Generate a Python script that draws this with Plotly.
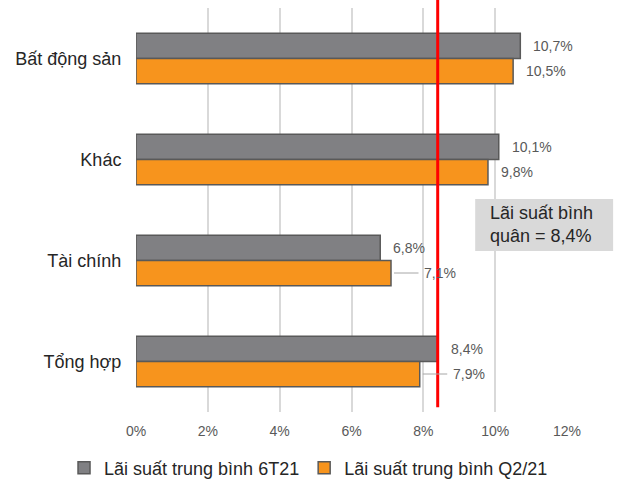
import plotly.graph_objects as go

categories = ['Bất động sản', 'Khác', 'Tài chính', 'Tổng hợp']
rate_6t21 = [10.7, 10.1, 6.8, 8.4]
rate_q221 = [10.5, 9.8, 7.1, 7.9]
labels_6t21 = ['10,7%', '10,1%', '6,8%', '8,4%']
labels_q221 = ['10,5%', '9,8%', '7,1%', '7,9%']
avg_rate = 8.4
x_ticks = [0, 2, 4, 6, 8, 10, 12]
x_ticklabels = ['0%', '2%', '4%', '6%', '8%', '10%', '12%']

FONT = 'Arial, Liberation Sans, sans-serif'
GRAY = '#808083'
ORANGE = '#F7941D'
EDGE = '#595959'
LABEL = '#595959'

fig = go.Figure()
fig.add_trace(go.Bar(y=categories, x=rate_6t21, orientation='h', name='Lãi suất trung bình 6T21',
                     marker=dict(color=GRAY, line=dict(color=EDGE, width=1.5))))
fig.add_trace(go.Bar(y=categories, x=rate_q221, orientation='h', name='Lãi suất trung bình Q2/21',
                     marker=dict(color=ORANGE, line=dict(color=EDGE, width=1.5))))

annotations = []
# labels that sit past a leader line in the source chart
leader = {'Tài chính', 'Tổng hợp'}
for cat, v1, v2, t1, t2 in zip(categories, rate_6t21, rate_q221, labels_6t21, labels_q221):
    annotations.append(dict(x=v1, y=cat, text=t1, showarrow=False, xanchor='left', xshift=11, yshift=12.5,
                            font=dict(family=FONT, size=14, color=LABEL)))
    if cat in leader:
        annotations.append(dict(x=v2, y=cat, text=t2, showarrow=True, arrowhead=0, arrowwidth=1,
                                arrowcolor='#a6a6a6', ax=49, ay=0, standoff=3, borderpad=5, yshift=-12.5,
                                font=dict(family=FONT, size=14, color=LABEL)))
    else:
        annotations.append(dict(x=v2, y=cat, text=t2, showarrow=False, xanchor='left', xshift=11, yshift=-12.5,
                                font=dict(family=FONT, size=14, color=LABEL)))

annotations.append(dict(xref='paper', yref='paper', x=0.817, y=0.463, xanchor='left', yanchor='middle',
                        text='Lãi suất bình<br>quân = 8,4%', showarrow=False, align='left',
                        font=dict(family=FONT, size=18, color='#262626')))

shapes = [
    dict(type='rect', xref='paper', yref='paper', x0=0.787, x1=1.107, y0=0.3985, y1=0.527,
         fillcolor='#d9d9d9', line=dict(width=0)),
    dict(type='line', xref='x', yref='paper', x0=avg_rate, x1=avg_rate, y0=0.012, y1=1.02,
         line=dict(color='#ff0000', width=3)),
]

fig.update_layout(
    width=620, height=485,
    margin=dict(l=136, r=53, t=8, b=73, autoexpand=False),
    paper_bgcolor='white', plot_bgcolor='white',
    barmode='group', bargap=0.5, bargroupgap=0,
    font=dict(family=FONT, color='#595959'),
    xaxis=dict(range=[0, 12], tickvals=x_ticks, ticktext=x_ticklabels, showgrid=True,
               gridcolor='#d9d9d9', gridwidth=2, zeroline=False, showline=False,
               ticks='outside', ticklen=6, tickcolor='rgba(0,0,0,0)',
               tickfont=dict(family=FONT, size=14, color='#595959')),
    yaxis=dict(autorange='reversed', showgrid=False, zeroline=False, showline=False,
               ticks='outside', ticklen=10, tickcolor='rgba(0,0,0,0)',
               tickfont=dict(family=FONT, size=18, color='#262626')),
    legend=dict(orientation='h', x=-0.167, y=-0.139, xanchor='left', yanchor='middle',
                font=dict(family=FONT, size=18, color='#262626'), traceorder='normal'),
    annotations=annotations,
    shapes=shapes,
)

fig.write_html('out.html', config={'displayModeBar': False},
               post_script="document.body.style.margin='0';")
